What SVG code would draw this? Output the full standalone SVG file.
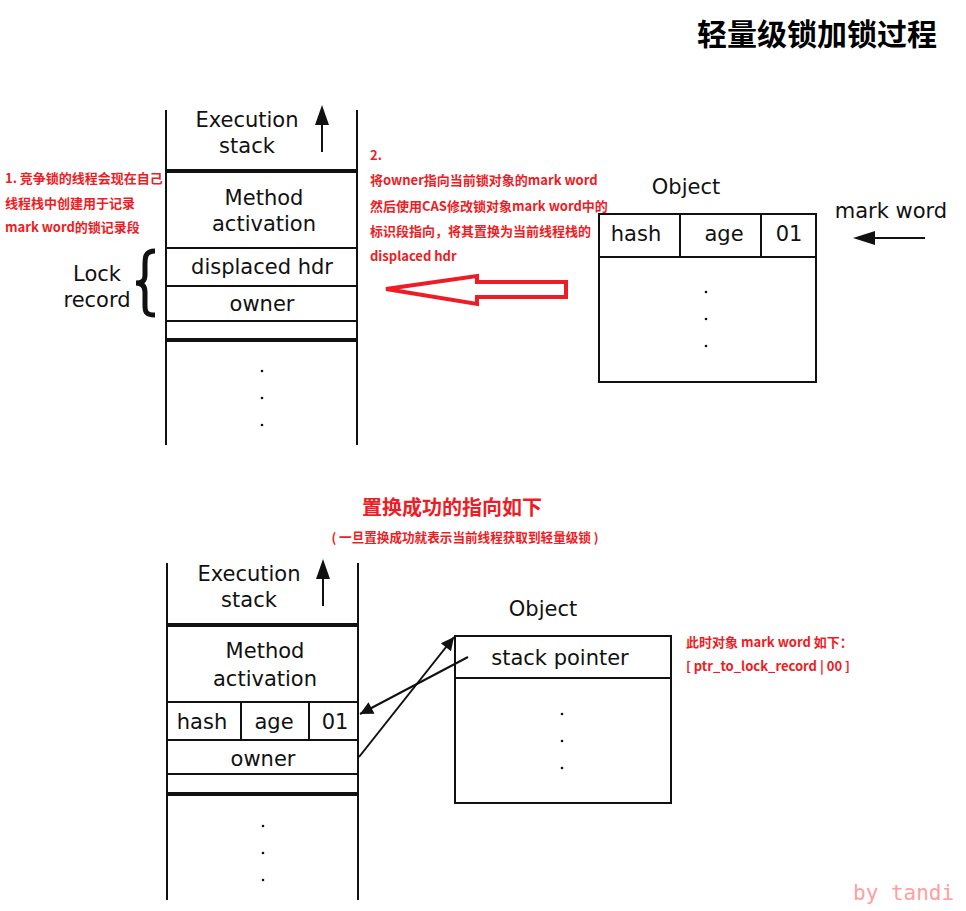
<svg xmlns="http://www.w3.org/2000/svg" width="966" height="911" viewBox="0 0 966 911">
<defs>
<style>
.ln{stroke:#111;stroke-width:2;fill:none}
.thick{stroke:#111;stroke-width:4;fill:none}
.box{stroke:#111;stroke-width:2;fill:#fff}
.t{font-family:"DejaVu Sans","Noto Sans",sans-serif;font-size:21px;fill:#111;text-anchor:middle}
.red{font-family:"Noto Sans CJK SC","Noto Sans",sans-serif;font-weight:bold;fill:#ee1c25}
.dot{fill:#111}
</style>
<marker id="ah" viewBox="0 0 10 10" refX="10" refY="5" markerWidth="9" markerHeight="6.5" orient="auto">
<path d="M0,0 L10,5 L0,10 z" fill="#111"/>
</marker>
</defs>
<rect width="966" height="911" fill="#fff"/>

<text x="817" y="45" font-family="'Noto Sans CJK SC',sans-serif" font-weight="bold" font-size="30" fill="#000" text-anchor="middle">轻量级锁加锁过程</text>

<!-- top stack -->
<g id="top-stack">
<line class="ln" x1="166" y1="110" x2="166" y2="445"/>
<line class="ln" x1="357" y1="110" x2="357" y2="445"/>
<line class="thick" x1="166" y1="171" x2="357" y2="171"/>
<line class="ln" x1="166" y1="248" x2="357" y2="248"/>
<line class="ln" x1="166" y1="286" x2="357" y2="286"/>
<line class="ln" x1="166" y1="321" x2="357" y2="321"/>
<line class="thick" x1="166" y1="340" x2="357" y2="340"/>
<text class="t" x="247" y="127">Execution</text>
<text class="t" x="247" y="153">stack</text>
<line class="ln" x1="322" y1="152" x2="322" y2="120"/>
<path d="M322,105 L315,125 L329,125 z" fill="#111"/>
<text class="t" x="264" y="205">Method</text>
<text class="t" x="264" y="231">activation</text>
<text class="t" x="262" y="274">displaced hdr</text>
<text class="t" x="262" y="311">owner</text>
<circle class="dot" cx="262" cy="371" r="1.3"/>
<circle class="dot" cx="262" cy="398" r="1.3"/>
<circle class="dot" cx="262" cy="425" r="1.3"/>
</g>

<g id="lock-record">
<text class="t" x="97" y="281">Lock</text>
<text class="t" x="97" y="307">record</text>
<path d="M155,251 C144,251 145,259 145,268 L145,275 C145,281 142,283 136,283 C142,283 145,286 145,292 L145,302 C145,310 144,315 155,315" stroke="#111" stroke-width="5" fill="none"/>
</g>

<g id="note1" class="red" font-size="13">
<text x="5" y="183">1. 竞争锁的线程会现在自己</text>
<text x="5" y="208">线程栈中创建用于记录</text>
<text x="5" y="232">mark word的锁记录段</text>
</g>

<g id="note2" class="red" font-size="13">
<text x="370" y="160">2.</text>
<text x="370" y="185">将owner指向当前锁对象的mark word</text>
<text x="370" y="211">然后使用CAS修改锁对象mark word中的</text>
<text x="370" y="236">标识段指向，将其置换为当前线程栈的</text>
<text x="370" y="261">displaced hdr</text>
</g>

<g id="red-arrow">
<path d="M386,289 L477,276 L477,282 L566,282 L566,297 L477,297 L477,304 Z" fill="#fff" stroke="#ee1c25" stroke-width="4" stroke-linejoin="miter"/>
</g>

<!-- top object -->
<g id="top-object">
<text class="t" x="686" y="194">Object</text>
<rect class="box" x="599" y="214" width="217" height="168"/>
<line class="ln" x1="599" y1="257" x2="816" y2="257"/>
<line class="ln" x1="680" y1="214" x2="680" y2="257"/>
<line class="ln" x1="761" y1="214" x2="761" y2="257"/>
<text class="t" x="636" y="241">hash</text>
<text class="t" x="724" y="241">age</text>
<text class="t" x="789" y="241">01</text>
<circle class="dot" cx="706" cy="292" r="1.3"/>
<circle class="dot" cx="706" cy="319" r="1.3"/>
<circle class="dot" cx="706" cy="346" r="1.3"/>
</g>

<g id="mark-word-label">
<text class="t" x="891" y="218">mark word</text>
<line class="ln" x1="925" y1="238" x2="870" y2="238"/>
<path d="M853,238 L875,231 L875,245 z" fill="#111"/>
</g>

<g id="success-title">
<text class="red" x="452" y="515" font-size="20" text-anchor="middle">置换成功的指向如下</text>
<text class="red" x="465" y="542" font-size="12.6" text-anchor="middle">( 一旦置换成功就表示当前线程获取到轻量级锁 )</text>
</g>

<!-- bottom stack -->
<g id="bottom-stack">
<line class="ln" x1="167" y1="563" x2="167" y2="900"/>
<line class="ln" x1="358" y1="563" x2="358" y2="900"/>
<line class="thick" x1="167" y1="625" x2="358" y2="625"/>
<line class="ln" x1="167" y1="702" x2="358" y2="702"/>
<line class="ln" x1="167" y1="740" x2="358" y2="740"/>
<line class="ln" x1="167" y1="774" x2="358" y2="774"/>
<line class="thick" x1="167" y1="794" x2="358" y2="794"/>
<line class="ln" x1="241" y1="702" x2="241" y2="740"/>
<line class="ln" x1="309" y1="702" x2="309" y2="740"/>
<text class="t" x="249" y="581">Execution</text>
<text class="t" x="249" y="607">stack</text>
<line class="ln" x1="323" y1="606" x2="323" y2="574"/>
<path d="M323,559 L316,579 L330,579 z" fill="#111"/>
<text class="t" x="265" y="658">Method</text>
<text class="t" x="265" y="686">activation</text>
<text class="t" x="202" y="729">hash</text>
<text class="t" x="274" y="729">age</text>
<text class="t" x="335" y="729">01</text>
<text class="t" x="263" y="766">owner</text>
<circle class="dot" cx="263" cy="826" r="1.3"/>
<circle class="dot" cx="263" cy="853" r="1.3"/>
<circle class="dot" cx="263" cy="880" r="1.3"/>
</g>

<!-- bottom object -->
<g id="bottom-object">
<text class="t" x="543" y="616">Object</text>
<rect class="box" x="455" y="636" width="216" height="167"/>
<line class="ln" x1="455" y1="678" x2="671" y2="678"/>
<text class="t" x="560" y="665">stack pointer</text>
<circle class="dot" cx="562" cy="714" r="1.3"/>
<circle class="dot" cx="562" cy="741" r="1.3"/>
<circle class="dot" cx="562" cy="768" r="1.3"/>
</g>

<g id="connectors">
<line class="ln" x1="359" y1="757" x2="454" y2="637" marker-end="url(#ah)"/>
<line class="ln" x1="468" y1="657" x2="360" y2="714" marker-end="url(#ah)"/>
</g>

<g id="note3" class="red" font-size="13">
<text x="686" y="647">此时对象 mark word 如下：</text>
<text x="686" y="671">[ ptr_to_lock_record | 00 ]</text>
</g>

<text x="853" y="900" font-family="'DejaVu Sans Mono','Liberation Mono',monospace" font-size="21" fill="#ffa0a0">by tandi</text>
</svg>
